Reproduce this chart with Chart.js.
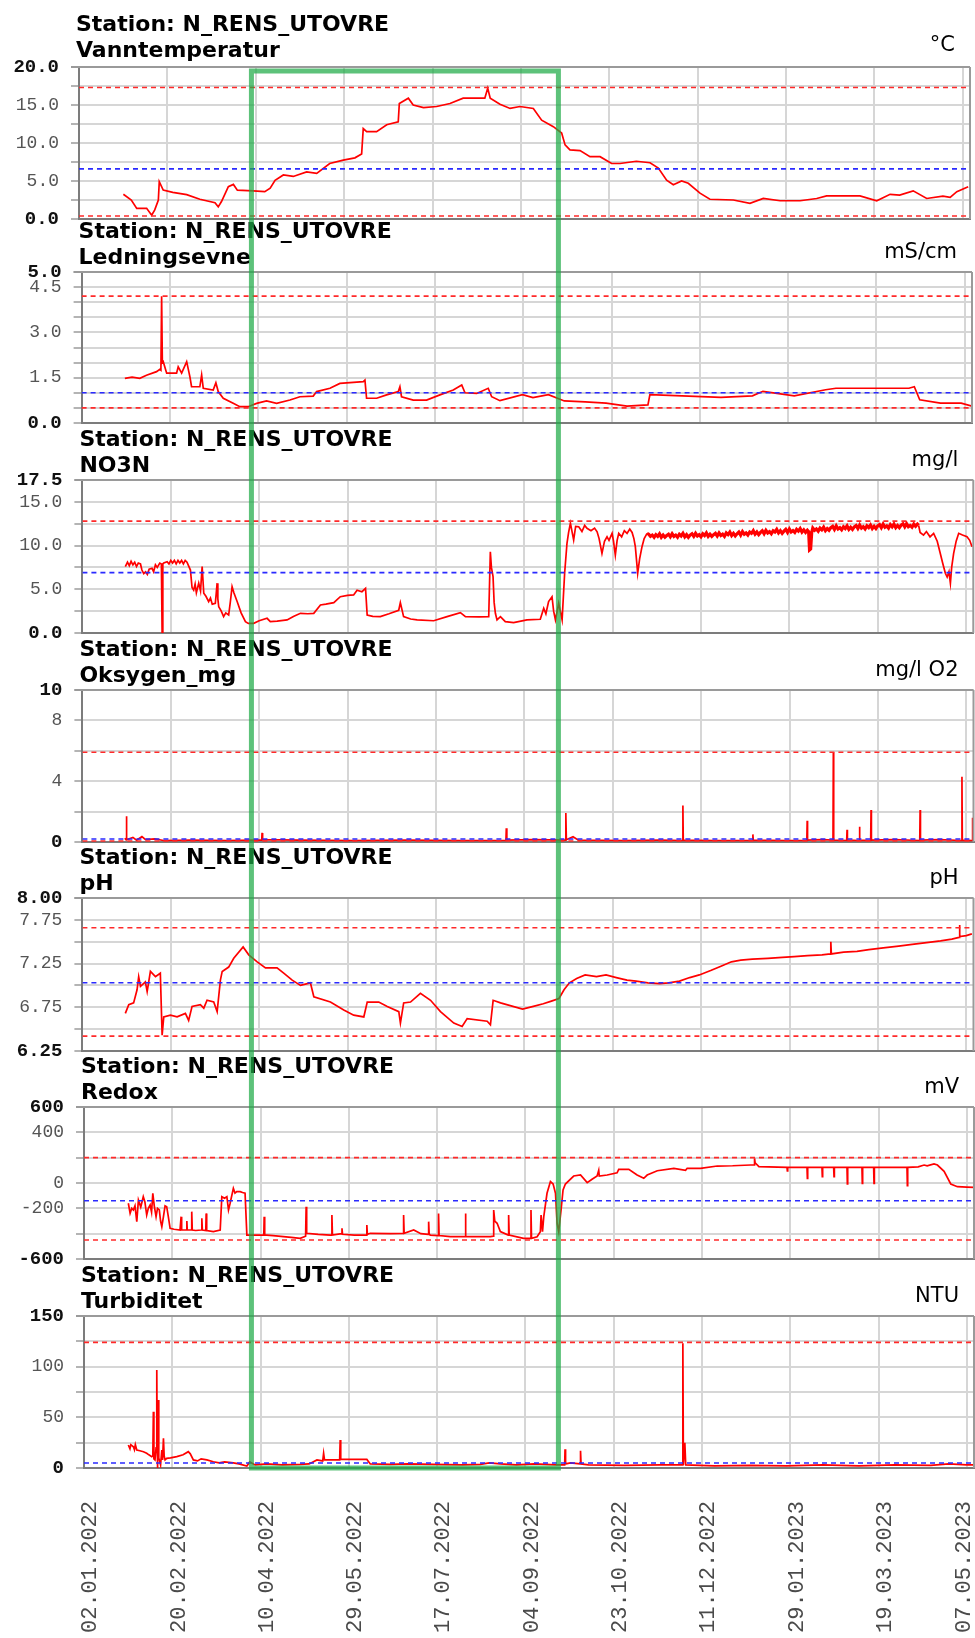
<!DOCTYPE html>
<html>
<head>
<meta charset="utf-8">
<title>N_RENS_UTOVRE</title>
<script src="https://cdn.jsdelivr.net/npm/chart.js@4.4.1/dist/chart.umd.min.js"></script>
<style>
  html, body { margin: 0; padding: 0; background: #ffffff; }
  #wrap { position: relative; width: 975px; height: 1638px; overflow: hidden; }
  #wrap canvas { position: absolute; left: 0; top: 0; }
</style>
</head>
<body>
<div id="wrap"></div>
<script>
// ---- time axis: day numbers counted from 02.01.2022 ----
const dayTicks = [0, 49, 98, 147, 196, 245, 294, 343, 392, 441, 490];
const dateLabels = ['02.01.2022', '20.02.2022', '10.04.2022', '29.05.2022', '17.07.2022', '04.09.2022',
                    '23.10.2022', '11.12.2022', '29.01.2023', '19.03.2023', '07.05.2023'];
const dayMax = 494;
const highlightDays = [95.6, 265.8];

// ---- panels ----
const station = 'Station: N_RENS_UTOVRE';
const panelNames = ['Vanntemperatur', 'Ledningsevne', 'NO3N', 'Oksygen_mg', 'pH', 'Redox', 'Turbiditet'];
const panelUnits = ['\u00B0C', 'mS/cm', 'mg/l', 'mg/l O2', 'pH', 'mV', 'NTU'];
const yMins = [0, 0, 0, 0, 6.25, -600, 0];
const yMaxs = [20, 5, 17.5, 10, 8, 600, 150];
const yGridSteps = [2.5, 0.5, 2.5, 2, 0.25, 200, 25];
const yLabelValues = [
  [0, 5, 10, 15, 20],
  [0, 1.5, 3, 4.5, 5],
  [0, 5, 10, 15, 17.5],
  [0, 4, 8, 10],
  [6.25, 6.75, 7.25, 7.75, 8],
  [-600, -200, 0, 400, 600],
  [0, 50, 100, 150]
];
const yDecimals = [1, 1, 1, 0, 2, 0, 0];
const upperRedLimit = [17.3, 4.2, 12.8, 5.9, 7.66, 200, 124];
const blueLevel = [6.6, 1.0, 6.9, 0.2, 7.03, -140, 5];
const lowerRedLimit = [0.4, 0.5, null, 0.07, 6.42, -450, null];
// stretches where the sensor signal is noisy and draws as a thick band
const noisyFrom = [null, null, 313, null, null, null, null];
const noisyTo = [null, null, 464, null, null, null, null];

// ---- measurements ----
const tempDays = [24.6, 29, 32, 37.5, 40.3, 42, 44, 44.5, 46.7, 52, 59.7, 67, 75.4, 77.2, 79, 82.8, 85.6, 87.8, 96.6, 103,
  106, 108.7, 113.3, 118.8, 126.2, 131.8, 139, 146.5, 153, 156.7, 157.6, 159.5, 165, 170.6, 177, 177.6, 182.6, 185.3, 191, 198.3,
  205.7, 213, 225, 226.6, 228, 233.4, 239, 244.5, 251.9, 256.5, 263, 267.6, 269.5, 272.2, 277.8, 283.3, 288.9, 295.3, 300, 309,
  316.6, 321.2, 325.8, 329.5, 334.1, 337.8, 344.3, 349.8, 362.8, 372, 379.4, 388.7, 399.8, 409, 414.5, 433, 442.3, 449.7, 455, 462.5,
  470, 479, 483, 486.7, 493];
const tempVals = [3.25, 2.5, 1.4, 1.4, 0.5, 1.2, 2.5, 4.9, 3.8, 3.5, 3.2, 2.6, 2.15, 1.6, 2.3, 4.25, 4.55, 3.8, 3.7, 3.6,
  4.05, 5.1, 5.8, 5.6, 6.2, 6.0, 7.3, 7.75, 8.05, 8.55, 11.9, 11.5, 11.5, 12.4, 12.8, 15.2, 15.9, 15.0, 14.65, 14.8,
  15.2, 15.9, 15.9, 17.2, 15.9, 15.1, 14.55, 14.8, 14.55, 13.0, 12.15, 11.3, 9.75, 9.1, 9.0, 8.2, 8.2, 7.3, 7.3, 7.6,
  7.4, 6.7, 5.1, 4.5, 5.0, 4.7, 3.4, 2.6, 2.5, 2.05, 2.7, 2.4, 2.4, 2.7, 3.05, 3.05, 2.4, 3.25, 3.15, 3.7,
  2.7, 3.0, 2.85, 3.6, 4.25];

const condDays = [24, 28, 32.3, 36, 41.6, 43.4, 44, 44.4, 44.8, 45.3, 47.2, 52.7, 53.6, 55.5, 58.3, 60.1, 61, 65.6, 66.6, 67.5,
  73, 74.5, 75.8, 78.6, 84.1, 87.8, 92.4, 97.1, 102.6, 108.2, 115.6, 121.1, 128.5, 130.4, 137.8, 143.3, 156.3, 157.2, 158.1, 163.7,
  169.2, 175.7, 176.6, 177.5, 184, 191.4, 198.8, 206.2, 210.9, 212.7, 219.2, 225.6, 227.5, 232.1, 244.6, 250.4, 259, 267.8, 279.4, 291,
  302.6, 314.2, 315.3, 354.7, 372.2, 378, 395.4, 412.8, 418.5, 459, 462, 465, 476.5, 488, 494];
const condVals = [1.48, 1.52, 1.48, 1.58, 1.70, 1.78, 1.75, 4.2, 2.0, 2.03, 1.65, 1.65, 1.86, 1.65, 2.03, 1.53, 1.2, 1.2, 1.59, 1.15,
  1.09, 1.33, 1.04, 0.82, 0.65, 0.54, 0.54, 0.65, 0.73, 0.65, 0.76, 0.87, 0.89, 1.04, 1.15, 1.31, 1.37, 1.42, 0.82, 0.82,
  0.93, 1.04, 1.2, 0.87, 0.76, 0.76, 0.93, 1.09, 1.26, 1.0, 0.98, 1.15, 0.87, 0.74, 0.94, 0.84, 0.94, 0.73, 0.7, 0.66,
  0.56, 0.6, 0.94, 0.85, 0.9, 1.05, 0.9, 1.1, 1.15, 1.15, 1.2, 0.77, 0.66, 0.66, 0.56];

const no3Days = [23.8, 25, 26, 27, 28, 29, 30, 31, 32.2, 33, 34, 35, 36, 37, 38.6, 39.5, 40.5, 41.5, 42.9, 43.8,
  44.2, 44.6, 45.1, 47, 48, 49, 50, 51, 52, 53, 54, 55, 56, 57, 58, 59.9, 60.8, 61.7, 62.5, 63.2,
  64.5, 65.5, 66.4, 67.3, 68.5, 70, 71, 72, 73.7, 74.2, 74.7, 75.1, 75.6, 77, 78.3, 79.5, 81.1, 82, 83, 84,
  85.8, 88, 90.4, 92, 95, 98, 102.4, 104.2, 108, 113.5, 117, 120.9, 125, 128.3, 132, 135, 139.4, 143, 147, 150.4,
  152.3, 155, 157, 157.9, 161, 165.2, 170, 175.4, 176.3, 178.1, 182, 185.6, 194.8, 202.2, 209.6, 212.4, 220, 225.3, 226.2, 226.8,
  227.7, 228.3, 229, 229.9, 231.8, 234.5, 239.1, 246.5, 253.9, 255.8, 257, 258.5, 260.4, 261.3, 262.3, 264.1, 266, 267.4, 268.7, 269.6,
  270.6, 271.5, 272.4, 273.5, 275.2, 277, 278.5, 279.8, 282, 284, 285.4, 286.5, 288.1, 289.5, 290.9, 292, 293.7, 294.5, 295.5, 296.5,
  297.4, 299, 300.5, 302, 303.5, 304.8, 305.8, 306.6, 307.9, 309, 310.3, 311.5, 313.1,
  314, 315, 316, 317, 318, 319, 320, 321, 322, 323,
  324, 325, 326, 327, 328, 329, 330, 331, 332, 333,
  334, 335, 336, 337, 338, 339, 340, 341, 342, 343,
  344, 345, 346, 347, 348, 349, 350, 351, 352, 353,
  354, 355, 356, 357, 358, 359, 360, 361, 362, 363,
  364, 365, 366, 367, 368, 369, 370, 371, 372, 373,
  374, 375, 376, 377, 378, 379, 380, 381, 382, 383,
  384, 385, 386, 387, 388, 389, 390, 391, 392, 393,
  394, 395, 396, 397, 398, 399, 400, 401, 402,
  402.7, 403.2, 403.8, 404.4,
  405, 406, 407, 408, 409, 410, 411, 412, 413, 414,
  415, 416, 417, 418, 419, 420, 421, 422, 423, 424,
  425, 426, 427, 428, 429, 430, 431, 432, 433, 434,
  435, 436, 437, 438, 439, 440, 441, 442, 443, 444,
  445, 446, 447, 448, 449, 450, 451, 452, 453, 454,
  455, 456, 457, 458, 459, 460, 461, 462, 463,
  463.7, 464.5, 466.4, 468, 470, 472, 474, 475.7, 477, 478.5,
  479.5, 480.5, 481.3, 482, 483.1, 484.5, 485.9, 488, 490.5, 492, 493.3];
const no3Vals = [7.6, 8.1, 7.7, 8.2, 7.8, 8.1, 7.6, 8.0, 7.9, 7.2, 6.8, 7.0, 6.7, 7.3, 7.4, 7.0, 7.8, 7.5, 8.0, 7.9,
  0, 7.9, 8.0, 8.15, 7.9, 8.3, 8.0, 8.3, 7.9, 8.3, 8.0, 8.3, 7.9, 8.3, 8.1, 7.2, 5.2, 4.9, 5.6, 4.6,
  5.7, 4.8, 7.6, 4.55, 4.2, 3.6, 4.0, 3.3, 3.4, 4.5, 5.7, 3.9, 3.0, 2.5, 1.87, 2.3, 2.06, 3.5, 5.3, 4.6,
  3.6, 2.3, 1.3, 1.1, 1.1, 1.4, 1.68, 1.3, 1.35, 1.5, 1.9, 2.25, 2.2, 2.25, 3.2, 3.3, 3.47, 4.15, 4.3, 4.35,
  4.9, 4.72, 5.1, 2.06, 1.9, 1.87, 2.2, 2.6, 3.47, 1.87, 1.6, 1.5, 1.4, 1.87, 2.33, 1.87, 1.85, 1.87, 9.3, 7.5,
  6.45, 3.5, 2.25, 1.5, 1.87, 1.3, 1.18, 1.5, 1.57, 2.83, 2.2, 3.6, 4.15, 2.5, 1.5, 3.4, 1.5, 6.83, 10.26, 11.5,
  12.55, 11.6, 10.64, 12.2, 12.15, 11.6, 12.3, 11.97, 11.7, 12.0, 11.58, 10.8, 9.1, 10.5, 11.0, 10.6, 11.4, 10.5, 8.9, 10.6,
  11.4, 11.0, 11.7, 11.4, 11.9, 11.5, 10.8, 9.87, 6.83, 8.5, 9.87, 10.8, 11.4,
  11.3, 11.05, 11.2, 10.95, 11.25, 11.05, 11.35, 10.95, 11.2, 10.95,
  11.15, 11.3, 11.0, 11.35, 11.05, 11.2, 10.95, 11.3, 11.1, 11.4,
  11.0, 11.25, 10.95, 11.2, 11.35, 11.05, 11.4, 11.1, 11.25, 11.0,
  11.35, 11.15, 11.45, 11.05, 11.3, 11.05, 11.25, 11.4, 11.1, 11.45,
  11.15, 11.3, 11.05, 11.45, 11.25, 11.55, 11.15, 11.4, 11.1, 11.35,
  11.55, 11.2, 11.6, 11.3, 11.45, 11.2, 11.55, 11.4, 11.7, 11.3,
  11.55, 11.25, 11.5, 11.7, 11.35, 11.75, 11.45, 11.6, 11.35, 11.7,
  11.55, 11.85, 11.45, 11.7, 11.4, 11.65, 11.85, 11.5, 11.9, 11.55,
  11.7, 11.5, 11.85, 11.65, 11.95, 11.55, 11.8, 11.5, 11.75,
  11.6, 9.5, 9.6, 11.5,
  12.0, 11.75, 11.9, 11.65, 12.0, 11.8, 12.1, 11.7, 11.95, 11.75,
  12.05, 12.2, 11.85, 12.25, 11.9, 12.05, 11.8, 12.15, 11.95, 12.25,
  11.85, 12.1, 11.85, 12.15, 12.3, 11.95, 12.35, 12.0, 12.15, 11.9,
  12.25, 12.05, 12.35, 11.95, 12.2, 11.95, 12.25, 12.4, 12.05, 12.45,
  12.1, 12.25, 12.0, 12.4, 12.15, 12.45, 12.05, 12.3, 12.05, 12.35,
  12.5, 12.15, 12.5, 12.15, 12.3, 12.1, 12.45, 12.2, 12.45,
  12.3, 11.5, 11.2, 11.6, 11.0, 11.4, 10.5, 9.1, 8.0, 6.83,
  6.4, 7.0, 5.7, 7.5, 9.1, 10.5, 11.4, 11.2, 11.0, 10.6, 9.87];

const oxyDays = [23.5, 24.2, 24.4, 24.6, 28, 30, 33, 35, 40, 45, 60, 80, 95, 99.4, 99.6, 99.9, 120, 150, 180, 210,
  234.8, 235, 235.3, 250, 267.8, 268, 268.3, 272, 275, 300, 320, 332.7, 332.9, 333.1, 350, 371.5, 371.7, 371.9, 390, 401.6,
  401.8, 402, 410, 416.1, 416.3, 416.5, 423.7, 423.9, 424.1, 430.6, 430.8, 431, 437, 437.2, 437.4, 450, 464.2, 464.4, 464.6, 475,
  487.4, 487.6, 487.8, 493.2, 493.4, 493.6, 494];
const oxyVals = [0.25, 0.15, 1.7, 0.15, 0.3, 0.12, 0.35, 0.15, 0.2, 0.1, 0.12, 0.1, 0.12, 0.12, 0.6, 0.15, 0.12, 0.1, 0.12, 0.1,
  0.1, 0.9, 0.12, 0.15, 0.12, 1.9, 0.15, 0.35, 0.12, 0.1, 0.12, 0.1, 2.4, 0.12, 0.1, 0.1, 0.5, 0.12, 0.1, 0.1,
  1.4, 0.12, 0.15, 0.12, 5.9, 0.12, 0.1, 0.8, 0.12, 0.1, 1.0, 0.12, 0.1, 2.1, 0.12, 0.15, 0.1, 2.1, 0.12, 0.15,
  0.1, 4.3, 0.12, 0.1, 1.6, 0.2, 0.15];

const phDays = [23.8, 25.7, 28.4, 30.3, 31.2, 32.2, 34.9, 35.9, 37.7, 40.5, 43.2, 44.2, 45.1, 48.8, 52.5, 57.1, 58.9, 60.8, 65.4, 67.3,
  69.1, 72.8, 74.7, 76.5, 77.5, 81.1, 83.9, 89.1, 92.2, 96.9, 101.5, 107.9, 111.6, 116.3, 120.9, 126.4, 128.3, 137.5, 144.9, 150.4,
  156, 157.9, 164.3, 169, 175.4, 176.3, 178.1, 181.9, 187.4, 193, 198.5, 205.9, 210.5, 213.3, 224.4, 226.2, 227.7, 231.8, 244, 250,
  255.5, 260, 264.2, 267, 270, 274, 278.7, 285, 290.3, 296, 301.9, 307, 313.5, 320, 325, 331, 336.7, 342, 348.3, 354,
  359.8, 365, 371.4, 380, 388, 394.6, 402, 410, 414.7, 414.9, 415.2, 422, 429.4, 436, 444, 452.5, 460, 468, 475.7, 482,
  486, 486.2, 486.5, 490, 493.1];
const phVals = [6.68, 6.78, 6.8, 6.95, 7.1, 6.99, 7.04, 6.93, 7.16, 7.1, 7.14, 6.43, 6.64, 6.66, 6.64, 6.68, 6.6, 6.76, 6.78, 6.74,
  6.83, 6.81, 6.7, 7.06, 7.16, 7.21, 7.31, 7.44, 7.35, 7.27, 7.2, 7.2, 7.14, 7.06, 7.0, 7.03, 6.87, 6.81, 6.72, 6.66,
  6.64, 6.81, 6.81, 6.76, 6.7, 6.57, 6.8, 6.81, 6.91, 6.83, 6.7, 6.57, 6.53, 6.62, 6.59, 6.55, 6.83, 6.8, 6.73, 6.76,
  6.79, 6.82, 6.85, 6.95, 7.03, 7.08, 7.12, 7.1, 7.12, 7.09, 7.06, 7.05, 7.03, 7.02, 7.03, 7.05, 7.09, 7.12, 7.17, 7.22,
  7.27, 7.29, 7.3, 7.31, 7.32, 7.33, 7.34, 7.35, 7.36, 7.5, 7.36, 7.38, 7.39, 7.41, 7.43, 7.45, 7.47, 7.49, 7.51, 7.53,
  7.55, 7.69, 7.56, 7.57, 7.59];

const redoxDays = [24.6, 25.6, 26.5, 27.4, 28.3, 29.3, 30.2, 31.5, 32.9, 33.8, 34.8, 35.7, 36.7, 37.5, 38.2, 39, 40, 40.8, 41.8, 42.5,
  43.2, 44.1, 45, 45.9, 46.8, 47.8, 50, 53.3, 53.6, 53.9, 54.2, 56.9, 57.1, 57.3, 59.6, 59.8, 60.1, 62, 65.2, 65.4,
  65.7, 67.6, 67.8, 68.1, 71.8, 75.6, 76.5, 78, 79.3, 80.2, 81.1, 82.9, 83.8, 84.8, 86.7, 88, 89.4, 90.4, 97.8, 99.8,
  100, 100.3, 101.5, 105, 110.7, 115, 120, 123, 123.3, 123.6, 130, 136.7, 137.4, 137.6, 137.9, 143, 143.2, 143.5, 150, 156.8,
  157, 157.3, 158.9, 170, 177.2, 177.4, 177.7, 183, 187, 191, 191.3, 191.6, 192.2, 196.6, 196.8, 197.1, 203.3, 211.5, 211.7, 212,
  216.3, 225.6, 227.2, 227.4, 228, 229.3, 231.1, 235.5, 235.7, 236, 244, 247.8, 248.1, 248.4, 251.5, 253.3, 253.7, 254.5, 255.2, 257,
  258.9, 260.4, 261.7, 262.6, 263.5, 264.8, 265.9, 267.2, 271.8, 275.6, 279.3, 282, 284.8, 285.7, 286, 290.4, 295.9, 296.8, 302.4, 307,
  310.7, 312.6, 318.2, 327.4, 333.9, 334.8, 342.2, 351.5, 360, 370, 372, 372.2, 372.5, 374.6, 390.2, 390.4, 390.6, 401.3, 401.5, 401.7,
  409.6, 409.8, 410, 416.1, 416.3, 416.5, 423.5, 423.7, 423.9, 431.8, 432, 432.2, 438.3, 438.5, 438.7, 456.8, 457, 457.2, 463, 466.3,
  468, 471.8, 473.7, 477.4, 481.1, 484.8, 490, 494];
const redoxVals = [-160, -239, -200, -213, -180, -305, -134, -190, -108, -150, -253, -200, -174, -230, -81, -180, -266, -200, -213, -300,
  -345, -266, -180, -187, -266, -358, -365, -371, -371, -266, -371, -371, -300, -371, -371, -226, -371, -375, -371, -279,
  -371, -375, -240, -375, -384, -371, -108, -120, -108, -213, -160, -42, -80, -68, -68, -75, -81, -411, -411, -411,
  -266, -411, -411, -415, -424, -430, -437, -420, -187, -397, -405, -411, -411, -253, -411, -400, -358, -405, -411, -411,
  -332, -405, -397, -400, -397, -253, -397, -371, -400, -405, -305, -405, -411, -415, -240, -415, -424, -424, -240, -424,
  -424, -424, -420, -213, -300, -318, -384, -411, -253, -411, -437, -437, -213, -437, -424, -384, -253, -384, -266, -81,
  11, -8, -81, -318, -384, -213, -55, -8, 55, 63, 3, 30, 55, 100, 55, 63, 81, 108, 108, 63,
  37, 63, 97, 116, 100, 116, 116, 134, 136, 142, 142, 195, 160, 129, 124, 95, 124, 124, 37, 124,
  124, 50, 124, 124, 50, 124, 124, -8, 124, 124, -3, 124, 124, -3, 124, 124, -21, 124, 128, 142,
  135, 150, 142, 92, -8, -29, -32, -34];

const turbDays = [24.6, 25.5, 26, 27.4, 28, 28.5, 29.3, 31, 33, 34.8, 36, 37.6, 38.2, 38.5, 38.8, 39.4, 40, 40.4, 40.6, 40.7,
  41, 41.3, 41.5, 41.8, 42.5, 43.2, 43.6, 44.1, 44.5, 45, 45.9, 48, 51.5, 55, 57.9, 59, 60.7, 63, 65, 68.2,
  71.8, 75, 78, 82.9, 86, 90.4, 92, 95, 101.5, 110, 120, 125, 129.3, 132.5, 133, 133.5, 136.7, 141.9, 142.2, 142.5,
  150, 157, 158.9, 170, 180, 194, 210, 220, 225, 231, 240, 250, 262, 266.8, 267, 267.3, 270, 275.4, 275.6, 275.9,
  280, 300, 320, 332.2, 332.4, 332.7, 333.5, 334, 350, 370, 390, 410, 430, 450, 470, 480, 490, 494];
const turbVals = [22.7, 19, 23, 21, 18, 23, 17.8, 17, 16, 14.5, 13, 11.2, 12, 55.6, 9, 8, 20, 96.7, 30, 0,
  60, 67, 10, 8, 3, 17.8, 8, 29.3, 12, 8, 9.5, 10, 11.2, 13, 16.1, 14, 8, 7, 9, 8,
  6.2, 5, 6, 5, 4, 2, 6, 3, 4, 3, 3.5, 4, 8, 7, 14.5, 8, 8, 8, 27.6, 8.5,
  8.5, 8.5, 4, 3.5, 4, 3.5, 3, 3.5, 5, 4, 3, 4, 3, 3, 18.5, 4, 5, 4, 17, 4,
  3, 2.5, 3, 3, 123, 3, 25, 3, 2, 2.5, 2, 3, 2, 3, 2.5, 4, 3, 3];

const seriesDays = [tempDays, condDays, no3Days, oxyDays, phDays, redoxDays, turbDays];
const seriesVals = [tempVals, condVals, no3Vals, oxyVals, phVals, redoxVals, turbVals];

// ---- page layout (pixels) ----
const pageW = 975, pageH = 1638;
const plotTop = [67, 272, 480, 690, 898, 1107, 1316];
const plotBottom = [219, 423, 633, 842, 1051, 1259, 1468];
const plotLeft = [79, 81.6, 82.4, 82.4, 82.4, 84, 84];
const plotRight = [970, 972, 973.3, 973.5, 973.5, 974, 974];
const headerShift = [-2, 0, 0, 0, 0, 0, 0];

const MONO = '"Liberation Mono", "DejaVu Sans Mono", monospace';
const SANS = '"DejaVu Sans", Verdana, sans-serif';
const LINE_RED = '#ff0000';
const DASH_RED = '#ff2a2a';
const DASH_BLUE = '#2a2aff';
const GRID = '#d6d6d6';
const AXIS = '#7c7c7c';

const charts = [];

const panelDecor = {
  id: 'panelDecor',
  afterDatasetsDraw(chart, args, opts) {
    const ctx = chart.ctx, a = chart.chartArea;
    ctx.save();
    ctx.strokeStyle = '#9a9a9a';
    ctx.lineWidth = 2;
    ctx.beginPath();
    ctx.moveTo(a.left - 8, a.top);
    ctx.lineTo(a.right, a.top);
    ctx.moveTo(a.right, a.top);
    ctx.lineTo(a.right, a.bottom);
    ctx.stroke();
    ctx.restore();
  },
  afterDraw(chart, args, opts) {
    const i = opts.index;
    const ctx = chart.ctx, a = chart.chartArea;
    const hs = headerShift[i];
    ctx.save();
    ctx.fillStyle = '#000';
    ctx.textAlign = 'left';
    ctx.textBaseline = 'alphabetic';
    ctx.font = 'bold 22px ' + SANS;
    ctx.fillText(station, a.left - 3, a.top - 34 + hs);
    ctx.fillText(panelNames[i], a.left - 3, a.top - 8 + hs);
    ctx.font = '21px ' + SANS;
    ctx.textAlign = 'right';
    ctx.fillText(panelUnits[i], a.right - 15, a.top - 14 + hs);

    if (opts.last) {
      // rotated date labels under the bottom panel
      const xs = chart.scales.x;
      ctx.fillStyle = '#4a4a4a';
      ctx.font = '22px ' + MONO;
      ctx.textAlign = 'right';
      ctx.textBaseline = 'middle';
      dayTicks.forEach((d, k) => {
        let px = xs.getPixelForValue(d) + 6.5;
        px = Math.min(px, pageW - 11);
        ctx.save();
        ctx.translate(px, a.bottom + 33);
        ctx.rotate(-Math.PI / 2);
        ctx.fillText(dateLabels[k], 0, 0);
        ctx.restore();
      });

      // highlighted period spanning all panels
      const first = charts[0] || chart;
      const fx = first.scales.x;
      const x1 = fx.getPixelForValue(highlightDays[0]);
      const x2 = fx.getPixelForValue(highlightDays[1]);
      const y1 = first.chartArea.top + 4;
      const y2 = a.bottom;
      ctx.strokeStyle = 'rgba(30,170,70,0.72)';
      ctx.lineWidth = 5;
      ctx.strokeRect(x1, y1, x2 - x1, y2 - y1);
    }
    ctx.restore();
  }
};

const wrap = document.getElementById('wrap');

panelNames.forEach((name, i) => {
  const cv = document.createElement('canvas');
  cv.width = pageW;
  cv.height = pageH;
  cv.style.width = pageW + 'px';
  cv.style.height = pageH + 'px';
  wrap.appendChild(cv);
  const last = i === panelNames.length - 1;
  const nFrom = noisyFrom[i], nTo = noisyTo[i];

  const datasets = [{
    label: name,
    data: seriesDays[i].map((d, k) => ({ x: d, y: seriesVals[i][k] })),
    borderColor: LINE_RED,
    borderWidth: 1.7,
    pointRadius: 0,
    tension: 0,
    order: 2,
    segment: {
      borderWidth: c => (nFrom !== null && c.p0.parsed.x >= nFrom && c.p1.parsed.x <= nTo) ? 3.2 : undefined
    }
  }];
  const levels = [
    [upperRedLimit[i], DASH_RED],
    [blueLevel[i], DASH_BLUE],
    [lowerRedLimit[i], DASH_RED]
  ];
  levels.forEach(([v, c]) => {
    if (v === null) return;
    datasets.push({
      data: [{ x: 0, y: v }, { x: dayMax, y: v }],
      borderColor: c,
      borderWidth: 1.6,
      borderDash: [5, 4],
      pointRadius: 0,
      order: 1
    });
  });

  const isBound = v => Math.abs(v - yMins[i]) < 1e-6 || Math.abs(v - yMaxs[i]) < 1e-6;
  const tickBound = ctx => !!(ctx && ctx.tick && isBound(ctx.tick.value));

  const chart = new Chart(cv.getContext('2d'), {
    type: 'line',
    data: { datasets },
    options: {
      responsive: false,
      animation: false,
      devicePixelRatio: 1,
      events: [],
      layout: { padding: { top: plotTop[i], bottom: pageH - plotBottom[i], left: 0, right: pageW - plotRight[i] } },
      plugins: {
        legend: { display: false },
        tooltip: { enabled: false },
        title: { display: false },
        panelDecor: { index: i, last }
      },
      scales: {
        x: {
          type: 'linear',
          min: 0,
          max: dayMax,
          afterBuildTicks: s => { s.ticks = dayTicks.map(v => ({ value: v })); },
          afterFit: s => { s.height = 0; },
          grid: { color: GRID, lineWidth: 2, drawTicks: false },
          border: { display: true, color: AXIS, width: 2 },
          ticks: { display: false }
        },
        y: {
          type: 'linear',
          min: yMins[i],
          max: yMaxs[i],
          afterBuildTicks: s => {
            const t = [];
            for (let v = yMins[i]; v <= yMaxs[i] + 1e-9; v += yGridSteps[i]) t.push({ value: +v.toFixed(4) });
            s.ticks = t;
          },
          afterFit: s => { s.width = plotLeft[i]; },
          grid: { color: GRID, lineWidth: 2, drawTicks: true, tickLength: 8, tickColor: '#b4b4b4' },
          border: { display: true, color: AXIS, width: 2 },
          ticks: {
            padding: 12,
            autoSkip: false,
            callback: v => yLabelValues[i].some(x => Math.abs(x - v) < 1e-6) ? v.toFixed(yDecimals[i]) : '',
            font: ctx => ({ family: MONO, size: tickBound(ctx) ? 19 : 18, weight: tickBound(ctx) ? 'bold' : 'normal' }),
            color: ctx => tickBound(ctx) ? '#111111' : '#555555'
          }
        }
      }
    },
    plugins: [panelDecor]
  });
  charts.push(chart);
});
// redraw the bottom panel so the highlight frame uses the first panel's scale
charts[charts.length - 1].draw();
</script>
</body>
</html>
